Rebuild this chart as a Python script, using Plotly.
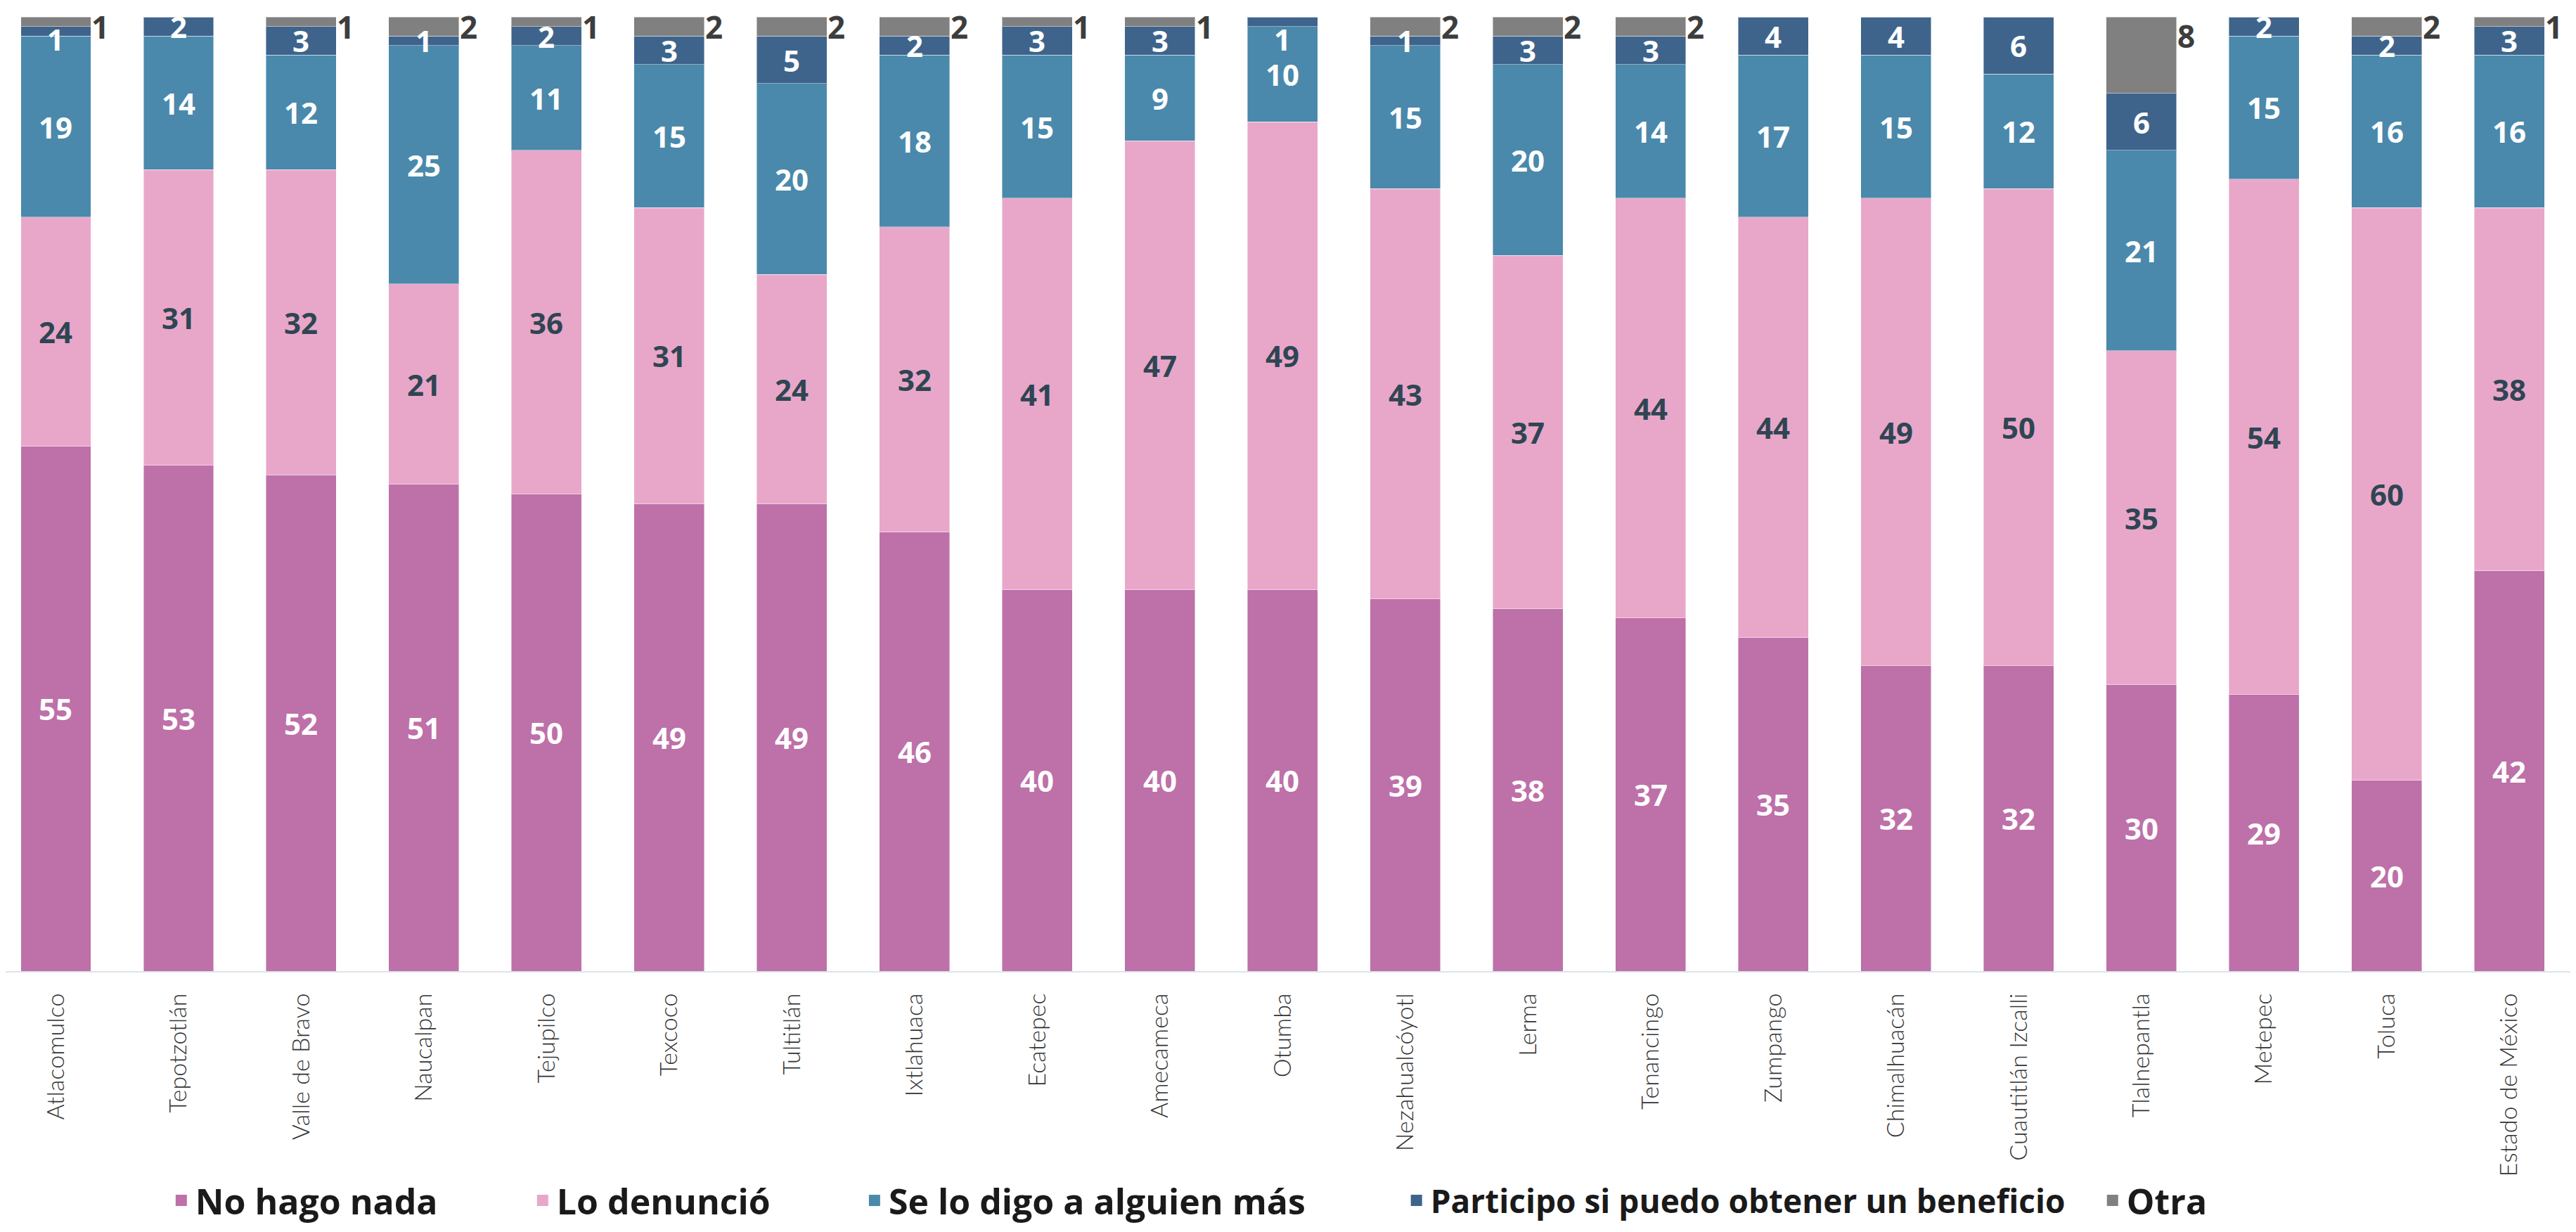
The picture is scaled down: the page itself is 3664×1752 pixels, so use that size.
import plotly.graph_objects as go

categories = ["Atlacomulco", "Tepotzotlán", "Valle de Bravo", "Naucalpan", "Tejupilco",
              "Texcoco", "Tultitlán", "Ixtlahuaca", "Ecatepec", "Amecameca", "Otumba",
              "Nezahualcóyotl", "Lerma", "Tenancingo", "Zumpango", "Chimalhuacán",
              "Cuautitlán Izcalli", "Tlalnepantla", "Metepec", "Toluca", "Estado de México"]

no_hago_nada = [55, 53, 52, 51, 50, 49, 49, 46, 40, 40, 40, 39, 38, 37, 35, 32, 32, 30, 29, 20, 42]
lo_denuncio = [24, 31, 32, 21, 36, 31, 24, 32, 41, 47, 49, 43, 37, 44, 44, 49, 50, 35, 54, 60, 38]
se_lo_digo = [19, 14, 12, 25, 11, 15, 20, 18, 15, 9, 10, 15, 20, 14, 17, 15, 12, 21, 15, 16, 16]
participo = [1, 2, 3, 1, 2, 3, 5, 2, 3, 3, 1, 1, 3, 3, 4, 4, 6, 6, 2, 2, 3]
otra = [1, 0, 1, 2, 1, 2, 2, 2, 1, 1, 0, 2, 2, 2, 0, 0, 0, 8, 0, 2, 1]

series_names = ["No hago nada", "Lo denunció", "Se lo digo a alguien más",
                "Participo si puedo obtener un beneficio", "Otra"]
series_values = [no_hago_nada, lo_denuncio, se_lo_digo, participo, otra]
colors = ["#BE70A9", "#E8A7C9", "#4A89AB", "#3E648C", "#808080"]
label_colors = ["#FFFFFF", "#2F4553", "#FFFFFF", "#FFFFFF", "#3D3D3D"]

# legend item left positions (paper fraction) and font sizes for each series
legend_x = [0.0630, 0.2039, 0.3333, 0.5446, 0.8160]
legend_size = [50, 50, 50, 46, 50]

LABEL_FONT = "Open Sans"
BAR_WIDTH = 0.573
FIG_W, FIG_H = 3648, 1736

fig = go.Figure()
for k, (name, vals, col) in enumerate(zip(series_names, series_values, colors)):
    lg = "legend" if k == 0 else f"legend{k + 1}"
    fig.add_trace(go.Bar(
        x=categories, y=vals, name=name, marker_color=col,
        marker_line=dict(color="rgba(255,255,255,0.45)", width=1),
        width=BAR_WIDTH, showlegend=False, hoverinfo="x+y+name"))
    fig.add_trace(go.Scatter(
        x=[None], y=[None], mode="markers", name=name, legend=lg,
        marker=dict(symbol="square", size=16, color=col), showlegend=True))

annotations = []
for i, cat in enumerate(categories):
    base = 0
    for s, vals in enumerate(series_values):
        v = vals[i]
        if v <= 0:
            continue
        if s < 4:
            yc = base + v / 2
            if v <= 1:
                yc = min(yc, 97.7)
            annotations.append(dict(
                x=cat, y=yc, xref="x", yref="y", text=str(v), showarrow=False,
                font=dict(family=LABEL_FONT, size=42, color=label_colors[s], weight=700),
                xanchor="center", yanchor="middle"))
        else:
            yc = max(min(base + v * 3 / 4, 98.95), 97.7)
            annotations.append(dict(
                x=i + BAR_WIDTH / 2, y=yc, xref="x", yref="y", text=str(v), showarrow=False,
                font=dict(family=LABEL_FONT, size=44, color=label_colors[s], weight=700),
                xanchor="left", yanchor="middle", xshift=0, borderpad=0))
        base += v

legends = {}
for k, lx in enumerate(legend_x):
    key = "legend" if k == 0 else f"legend{k + 1}"
    legends[key] = dict(orientation="h", y=-0.2403, yanchor="middle", xanchor="left", x=lx,
                        font=dict(family=LABEL_FONT, size=legend_size[k], color="#1A1A1A", weight=700),
                        itemsizing="trace", itemwidth=30, bgcolor="rgba(0,0,0,0)")

fig.update_layout(
    width=FIG_W, height=FIG_H,
    margin=dict(l=0, r=0, t=16, b=363, autoexpand=False),
    barmode="stack",
    plot_bgcolor="white", paper_bgcolor="white",
    annotations=annotations,
    showlegend=True,
    xaxis=dict(range=[-0.4097, 20.496], tickangle=-90, showgrid=False, zeroline=False,
               showline=True, linecolor="#DDE4EA", linewidth=2,
               ticks="outside", ticklen=16, tickcolor="rgba(0,0,0,0)",
               tickfont=dict(family="Lato", size=34, color="#333333", weight=300)),
    yaxis=dict(range=[0, 100], visible=False, showgrid=False, zeroline=False),
    **legends,
)

fig.write_html("out.html")
